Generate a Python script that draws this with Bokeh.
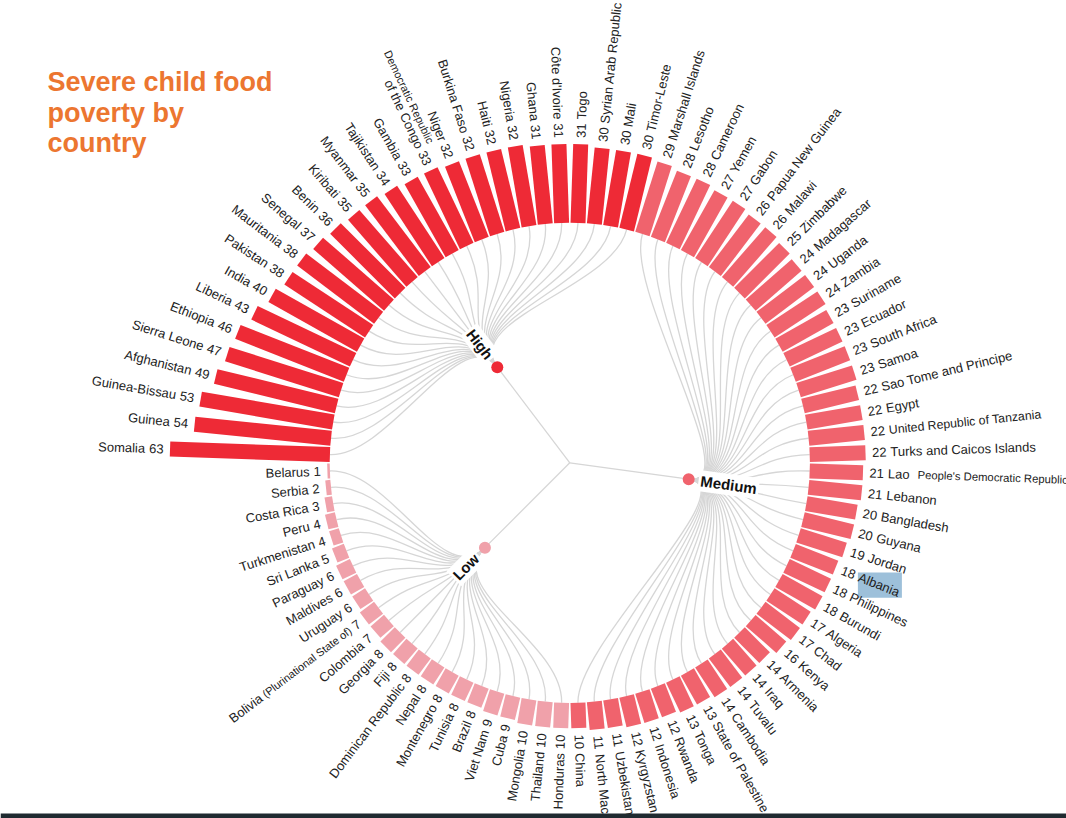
import math
from bokeh.plotting import figure
from bokeh.models import Range1d
from bokeh.core.properties import value
from bokeh.embed import file_html
from bokeh.resources import INLINE

# ---------------- data ----------------
title_lines = ["Severe child food", "poverty by", "country"]

group_names = ["High", "Medium", "Low"]

high_countries = ["Somalia", "Guinea", "Guinea-Bissau", "Afghanistan", "Sierra Leone", "Ethiopia",
                  "Liberia", "India", "Pakistan", "Mauritania", "Senegal", "Benin", "Kiribati",
                  "Myanmar", "Tajikistan", "Gambia", "Democratic Republic of the Congo", "Niger",
                  "Burkina Faso", "Haiti", "Nigeria", "Ghana", "Côte d'Ivoire", "Togo",
                  "Syrian Arab Republic", "Mali", "Timor-Leste"]
high_values = [63, 54, 53, 49, 47, 46, 43, 40, 38, 38, 37, 36, 35, 35, 34, 33, 33, 32, 32, 32, 32,
               31, 31, 31, 30, 30, 30]

medium_countries = ["Marshall Islands", "Lesotho", "Cameroon", "Yemen", "Gabon", "Papua New Guinea",
                    "Malawi", "Zimbabwe", "Madagascar", "Uganda", "Zambia", "Suriname", "Ecuador",
                    "South Africa", "Samoa", "Sao Tome and Principe", "Egypt",
                    "United Republic of Tanzania", "Turks and Caicos Islands",
                    "Lao People's Democratic Republic", "Lebanon", "Bangladesh", "Guyana", "Jordan",
                    "Albania", "Philippines", "Burundi", "Algeria", "Chad", "Kenya", "Armenia", "Iraq",
                    "Tuvalu", "Cambodia", "State of Palestine", "Tonga", "Rwanda", "Indonesia",
                    "Kyrgyzstan", "Uzbekistan", "North Macedonia", "China"]
medium_values = [29, 28, 28, 27, 27, 26, 26, 25, 24, 24, 24, 23, 23, 23, 23, 22, 22, 22, 22, 21, 21,
                 20, 20, 19, 18, 18, 18, 17, 17, 16, 14, 14, 14, 14, 13, 13, 12, 12, 12, 11, 11, 10]

low_countries = ["Honduras", "Thailand", "Mongolia", "Cuba", "Viet Nam", "Brazil", "Tunisia",
                 "Montenegro", "Nepal", "Dominican Republic", "Fiji", "Georgia", "Colombia",
                 "Bolivia (Plurinational State of)", "Uruguay", "Maldives", "Paraguay", "Sri Lanka",
                 "Turkmenistan", "Peru", "Costa Rica", "Serbia", "Belarus"]
low_values = [10, 10, 10, 9, 9, 8, 8, 8, 8, 8, 8, 8, 7, 7, 6, 6, 6, 5, 4, 4, 3, 2, 1]

highlighted = ["Albania"]

# ---------------- styling / geometry ----------------
W, H = 1066, 818
CX, CY = 569.3, H - 462.3
R_IN = 240.0
PX_PER_UNIT = 160.0 / 63.0
BAR_W = 15.0
R_NODE = 120.0
GAP = 6.5
SP = 4.0
PART_GAP = 8.0
START = 178.04
FONT = "Liberation Sans"
TXT = "#222222"
group_colors = ["#EE2A36", "#F0636D", "#F0A1AA"]
LINK = "#D6D6D6"

# special label layouts: parts of the name (text, font size)
label_parts = {
    "Democratic Republic of the Congo": [("of the Congo", 13)],
    "Bolivia (Plurinational State of)": [("Bolivia", 13), ("(Plurinational State of)", 11)],
    "Lao People's Democratic Republic": [("Lao", 13), ("People's Democratic Republic", 11.3)],
    "United Republic of Tanzania": [("United Republic of Tanzania", 12.3)],
}
extra_line = {"Democratic Republic of the Congo": ("Democratic Republic", 11)}

AW = {' ': 278, '(': 333, ')': 333, "'": 191, '-': 333, 'ô': 556, '.': 278}
for ch in "0123456789":
    AW[ch] = 556
AW.update(dict(zip("ABCDEFGHIJKLMNOPQRSTUVWXYZ",
                   [667, 667, 722, 722, 667, 611, 778, 722, 278, 500, 667, 556, 833, 722, 778, 667,
                    778, 722, 667, 611, 722, 667, 944, 667, 667, 611])))
AW.update(dict(zip("abcdefghijklmnopqrstuvwxyz",
                   [556, 556, 500, 556, 556, 278, 556, 556, 222, 222, 500, 222, 833, 556, 556, 556,
                    556, 333, 500, 278, 556, 500, 722, 500, 500, 500])))


def tw(s, size):
    return sum(AW.get(c, 556) for c in s) / 1000.0 * size


def pol(theta_deg, r):
    t = math.radians(theta_deg)
    return CX + r * math.cos(t), CY + r * math.sin(t)


countries = high_countries + medium_countries + low_countries
values = high_values + medium_values + low_values
groups = [0] * len(high_countries) + [1] * len(medium_countries) + [2] * len(low_countries)
N = len(countries)
step = 360.0 / N
angles = [START - i * step for i in range(N)]

p = figure(width=W, height=H, x_range=Range1d(0, W), y_range=Range1d(0, H),
           x_axis_location=None, y_axis_location=None, min_border=0,
           output_backend="svg", toolbar_location=None)
p.grid.visible = False
p.outline_line_color = None
p.background_fill_color = "white"

# ---------------- group nodes ----------------
node_angles = []
for g in range(3):
    a = [angles[i] for i in range(N) if groups[i] == g]
    node_angles.append(sum(a) / len(a))
nx = [pol(a, R_NODE)[0] for a in node_angles]
ny = [pol(a, R_NODE)[1] for a in node_angles]

# root -> group links
p.segment(x0=[CX] * 3, y0=[CY] * 3, x1=nx, y1=ny, line_color=LINK, line_width=1.3)

# group -> leaf links (radial bump curves)
bx0, by0, bx1, by1, c0x, c0y, c1x, c1y = [], [], [], [], [], [], [], []
rm = (R_NODE + R_IN) / 2
for i in range(N):
    g = groups[i]
    ga = node_angles[g]
    x0, y0 = pol(ga, R_NODE)
    x1, y1 = pol(angles[i], R_IN)
    a0, b0 = pol(ga, rm)
    a1, b1 = pol(angles[i], rm)
    bx0.append(x0); by0.append(y0); bx1.append(x1); by1.append(y1)
    c0x.append(a0); c0y.append(b0); c1x.append(a1); c1y.append(b1)
p.bezier(x0=bx0, y0=by0, x1=bx1, y1=by1, cx0=c0x, cy0=c0y, cx1=c1x, cy1=c1y,
         line_color=LINK, line_width=1.3)

# ---------------- bars ----------------
rx, ry, rw, ra, rc = [], [], [], [], []
for i in range(N):
    L = values[i] * PX_PER_UNIT
    x, y = pol(angles[i], R_IN + L / 2)
    rx.append(x); ry.append(y); rw.append(L); ra.append(angles[i]); rc.append(group_colors[groups[i]])
p.rect(x=rx, y=ry, width=rw, height=BAR_W, angle=ra, angle_units="deg",
       fill_color=rc, line_color=None)

# ---------------- highlight box (selection) ----------------
for i in range(N):
    if countries[i] in highlighted:
        th = angles[i]
        r_out = R_IN + values[i] * PX_PER_UNIT
        r2 = r_out + GAP + tw(str(values[i]), 13) + SP
        Ln = tw(countries[i], 13)
        cxh, cyh = pol(th, r2 + Ln / 2 + 1)
        t = math.radians(th)
        hx = Ln / 2 * abs(math.cos(t)) + 5.0 * abs(math.sin(t))
        hy = Ln / 2 * abs(math.sin(t)) + 5.0 * abs(math.cos(t))
        p.quad(left=[cxh - hx], right=[cxh + hx], bottom=[cyh - hy], top=[cyh + hy],
               fill_color="#9DC0DA", line_color=None)

# ---------------- labels ----------------
segs = {}  # (align, size) -> lists


def add_seg(align, size, x, y, text, ang):
    key = (align, size)
    d = segs.setdefault(key, {"x": [], "y": [], "t": [], "a": []})
    d["x"].append(x); d["y"].append(y); d["t"].append(text); d["a"].append(ang)


for i in range(N):
    th = angles[i]
    th_n = ((th + 180) % 360) - 180
    right = -90 < th_n < 90
    r_out = R_IN + values[i] * PX_PER_UNIT
    vs = str(values[i])
    r1 = r_out + GAP
    r2 = r1 + tw(vs, 13) + SP
    parts = label_parts.get(countries[i], [(countries[i], 13)])
    if right:
        x, y = pol(th, r1)
        add_seg("left", 13, x, y, vs, th_n)
        r = r2
        for txt, sz in parts:
            x, y = pol(th, r)
            add_seg("left", sz, x, y, txt, th_n)
            r += tw(txt, sz) + PART_GAP
    else:
        ang = th_n - 180 if th_n > 0 else th_n + 180
        x, y = pol(th, r1)
        add_seg("right", 13, x, y, vs, ang)
        r = r2
        for txt, sz in reversed(parts):
            x, y = pol(th, r)
            add_seg("right", sz, x, y, txt, ang)
            r += tw(txt, sz) + tw(" ", sz)
        if countries[i] in extra_line:
            txt, sz = extra_line[countries[i]]
            x, y = pol(th, r2)
            ur = math.radians(ang + 90)
            add_seg("right", sz, x + 12 * math.cos(ur), y + 12 * math.sin(ur), txt, ang)

for (align, size), d in segs.items():
    p.text(x=d["x"], y=d["y"], text=d["t"], angle=d["a"], angle_units="deg",
           text_align=align, text_baseline="middle", text_font=value(FONT),
           text_font_size=f"{size}px", text_color=TXT)

# group labels with white background
for g in range(3):
    th = node_angles[g]
    th_n = ((th + 180) % 360) - 180
    right = -90 < th_n < 90
    x, y = pol(th, R_NODE + 10)
    if right:
        ang, align = th_n, "left"
    else:
        ang, align = (th_n - 180 if th_n > 0 else th_n + 180), "right"
    p.text(x=[x], y=[y], text=[group_names[g]], angle=[ang], angle_units="deg",
           text_align=align, text_baseline="middle", text_font=value(FONT),
           text_font_size="15px", text_font_style="bold", text_color="#111111",
           background_fill_color="white", padding=2)

# node dots
p.circle(x=nx, y=ny, radius=6, fill_color=group_colors, line_color=None)

# ---------------- title ----------------
tx = [47] * 3
ty = [H - 81.7 - 30.5 * k for k in range(3)]
p.text(x=tx, y=ty, text=title_lines, text_align="left", text_baseline="alphabetic",
       text_font=value(FONT), text_font_size="27px", text_font_style="bold",
       text_color="#EC7630")

# dark strip along the bottom edge of the captured window
p.quad(left=[0], right=[W], bottom=[0], top=[5], fill_color="#1F2A30", line_color=None)

open("out.html", "w").write(file_html(p, INLINE))
